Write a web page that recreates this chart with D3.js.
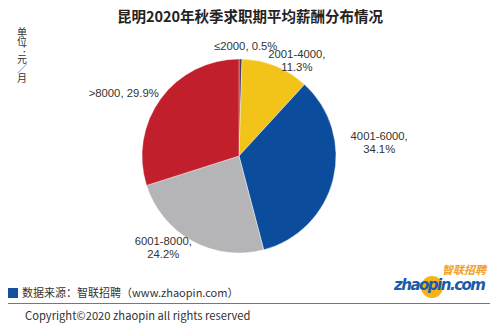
<!DOCTYPE html>
<html><head><meta charset="utf-8">
<script src="https://cdn.jsdelivr.net/npm/d3@7/dist/d3.min.js"></script>
<style>body{margin:0;background:#fff;}svg{display:block;}</style>
</head><body>
<svg id="c" width="499" height="328"></svg>
<script>
const categories = ["≤2000", "2001-4000", "4001-6000", "6001-8000", ">8000"];
const values = [0.5, 11.3, 34.1, 24.2, 29.9];
const colors = ["#4b3a68", "#f2c419", "#0c4c9c", "#b5b5b7", "#c11f2b"];
const labelLines = [["≤2000, 0.5%"], ["2001-4000,", "11.3%"], ["4001-6000,", "34.1%"], ["6001-8000,", "24.2%"], [">8000, 29.9%"]];
const title = "昆明2020年秋季求职期平均薪酬分布情况";
const unitText = "单位：元／月";
const sourceText = "数据来源：智联招聘（www.zhaopin.com）";
const copyrightText = "Copyright©2020 zhaopin all rights reserved";

const svg = d3.select("#c");
const font = "'Noto Sans CJK SC','Noto Sans',sans-serif";
const labFont = "'Liberation Sans','DejaVu Sans',sans-serif";
const cx = 239, cy = 156, r = 97;

svg.append("text").attr("x", 250).attr("y", 22).attr("text-anchor", "middle")
  .attr("font-family", font).attr("font-weight", "bold").attr("font-size", 14.5)
  .attr("fill", "#222").text(title);

// unit vertical
svg.append("text").attr("x", 22).attr("y", 27)
  .style("writing-mode", "vertical-rl")
  .style("letter-spacing", "-0.8px")
  .attr("font-family", font).attr("font-size", 10).attr("fill", "#333")
  .text(unitText);

const pie = d3.pie().sort(null).value(d => d)(values);
const arc = d3.arc().innerRadius(0).outerRadius(r);
const g = svg.append("g").attr("transform", `translate(${cx},${cy})`);
g.selectAll("path").data(pie).join("path")
  .attr("d", arc).attr("fill", (d, i) => colors[i])
  .attr("stroke", "#fff").attr("stroke-width", 0.4);

// label offsets relative to a point on the rim (radius factor k)
const labelPos = [
  { k: 1.134, dx: 5, dy: 0 },
  { k: 1.063, dx: 19, dy: 0 },
  { k: 1.0, dx: 46, dy: -37 },
  { k: 1.0, dx: -29, dy: 6 },
  { k: 1.0, dx: -37, dy: -6 }
];
const lab = svg.append("g");
pie.forEach((d, i) => {
  const a = (d.startAngle + d.endAngle) / 2;
  const lp = labelPos[i];
  const x = cx + Math.sin(a) * r * lp.k + lp.dx;
  const y = cy - Math.cos(a) * r * lp.k + lp.dy;
  const lines = labelLines[i];
  lines.forEach((ln, j) => {
    lab.append("text").attr("text-anchor", "middle")
      .attr("font-family", labFont).attr("font-size", 11.3).attr("fill", "#333")
      .attr("x", x).attr("y", y + 4 + (j - (lines.length - 1) / 2) * 13).text(ln);
  });
});

// logo
const logo = svg.append("g");
logo.append("circle").attr("cx", 432).attr("cy", 287).attr("r", 11).attr("fill", "#f5b21a");
logo.append("text").attr("x", 486).attr("y", 274).attr("text-anchor", "end")
  .attr("font-family", font).attr("font-weight", "bold").attr("font-size", 11)
  .attr("fill", "#f0a020").attr("font-style", "italic").text("智联招聘");
logo.append("text").attr("x", 486).attr("y", 290).attr("text-anchor", "end")
  .attr("font-family", "'DejaVu Sans',sans-serif").attr("font-weight", "bold").attr("font-size", 15)
  .attr("font-style", "italic").attr("fill", "#1b5aa8").attr("textLength", 92).text("zhaopin.com");

// source
svg.append("rect").attr("x", 8).attr("y", 288).attr("width", 10).attr("height", 10).attr("fill", "#1450a0");
svg.append("text").attr("x", 22).attr("y", 297).attr("font-family", font).attr("font-size", 11)
  .attr("fill", "#333").text(sourceText);
svg.append("line").attr("x1", 8).attr("x2", 490).attr("y1", 303.5).attr("y2", 303.5)
  .attr("stroke", "#777").attr("stroke-width", 1.2);
svg.append("text").attr("x", 25).attr("y", 320).attr("font-family", font).attr("font-size", 11.2)
  .attr("fill", "#333").text(copyrightText);
</script>
</body></html>
